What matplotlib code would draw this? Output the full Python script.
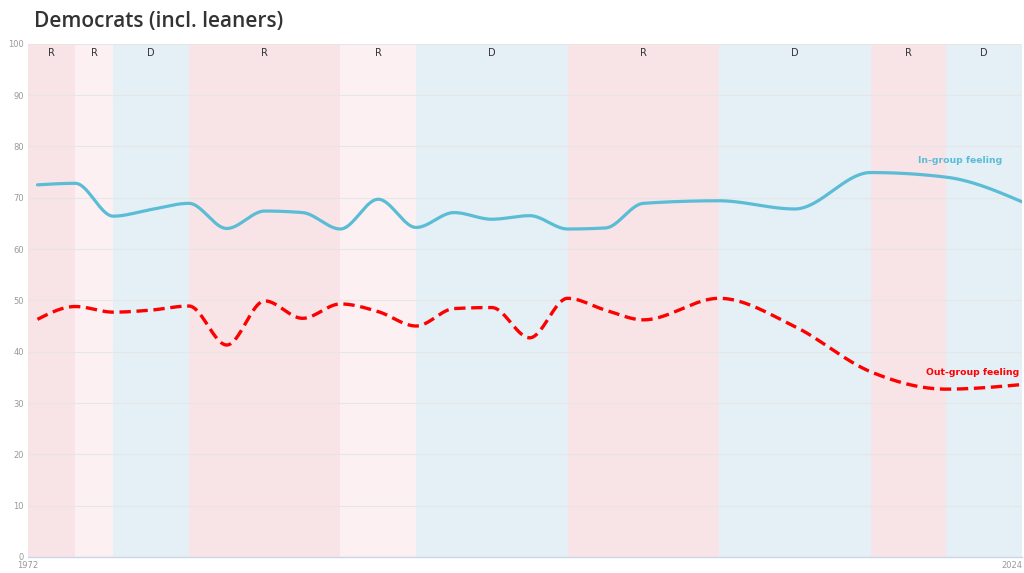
import numpy as np
import matplotlib.pyplot as plt

years = [1972, 1974, 1976, 1978, 1980, 1982, 1984, 1986, 1988, 1990, 1992,
         1994, 1996, 1998, 2000, 2002, 2004, 2008, 2012, 2016, 2020, 2024]
in_group = [72.5, 72.8, 66.4, 67.7, 68.9, 64.0, 67.4, 67.1, 63.9, 69.7, 64.2,
            67.1, 65.8, 66.5, 63.9, 64.1, 68.9, 69.4, 67.8, 74.9, 74.0, 69.2]
out_group = [46.3, 48.8, 47.7, 48.1, 48.9, 41.3, 49.9, 46.5, 49.3, 47.8, 45.0,
             48.4, 48.6, 42.7, 50.4, 48.1, 46.2, 50.4, 44.9, 36.1, 32.7, 33.6]

# presidencies: start, end, party
term_starts = [1971.5, 1974, 1976, 1980, 1988, 1992, 2000, 2008, 2016, 2020]
term_ends = [1974, 1976, 1980, 1988, 1992, 2000, 2008, 2016, 2020, 2024]
term_party = ["R", "R", "D", "R", "R", "D", "R", "D", "R", "D"]
term_shade = ["dark", "light", "dark", "dark", "light", "dark", "dark", "dark", "dark", "dark"]

band_colors = {("R", "dark"): "#f8e3e6", ("R", "light"): "#fcf0f2",
               ("D", "dark"): "#e4eff6", ("D", "light"): "#eef5fa"}


def monotone(x, y, n=40):
    # monotone cubic interpolation (d3 curveMonotoneX style)
    x = np.asarray(x, float)
    y = np.asarray(y, float)
    h = np.diff(x)
    s = np.diff(y) / h
    m = np.zeros_like(y)
    for i in range(1, len(y) - 1):
        p = (s[i - 1] * h[i] + s[i] * h[i - 1]) / (h[i - 1] + h[i])
        m[i] = (np.sign(s[i - 1]) + np.sign(s[i])) * min(abs(s[i - 1]), abs(s[i]), 0.5 * abs(p))
    m[0] = (3 * s[0] - m[1]) / 2
    m[-1] = (3 * s[-1] - m[-2]) / 2
    xs, ys = [], []
    for i in range(len(h)):
        t = np.linspace(0, 1, n, endpoint=(i == len(h) - 1))
        h00 = 2 * t**3 - 3 * t**2 + 1
        h10 = t**3 - 2 * t**2 + t
        h01 = -2 * t**3 + 3 * t**2
        h11 = t**3 - t**2
        xs.append(x[i] + t * h[i])
        ys.append(h00 * y[i] + h10 * h[i] * m[i] + h01 * y[i + 1] + h11 * h[i] * m[i + 1])
    return np.concatenate(xs), np.concatenate(ys)


fig = plt.figure(figsize=(10.24, 5.73), dpi=100)
ax = fig.add_axes([28 / 1024, 1 - 557 / 573, 994 / 1024, (557 - 43.7) / 573])

for x0, x1, p, sh in zip(term_starts, term_ends, term_party, term_shade):
    ax.axvspan(x0, x1, color=band_colors[(p, sh)], lw=0, zorder=0)
    ax.text((x0 + x1) / 2, 98.2, p, ha="center", va="center", fontsize=7,
            color="#333333", zorder=3)

xi, yi = monotone(years, in_group)
ax.plot(xi, yi, color="#5bbcd6", lw=2.3, solid_capstyle="round", zorder=4)
xo, yo = monotone(years, out_group)
ax.plot(xo, yo, color="#ff0000", lw=2.4, linestyle=(0, (3.4, 1.7)), zorder=4)

ax.text(2020.75, 77.2, "In-group feeling", color="#5bbcd6", fontsize=6.7,
        fontweight="bold", ha="center", va="center", zorder=5)
ax.text(2021.4, 35.9, "Out-group feeling", color="#ff0000", fontsize=6.7,
        fontweight="bold", ha="center", va="center", zorder=5)

ax.set_xlim(1971.5, 2024)
ax.set_ylim(0, 100)
ax.set_yticks(range(0, 101, 10))
ax.set_xticks([1971.5, 2024])
ax.set_xticklabels(["1972", "2024"])
ax.get_xticklabels()[1].set_ha("right")
ax.tick_params(axis="both", length=0, labelsize=6, colors="#999999")
ax.tick_params(axis="y", pad=3)
ax.tick_params(axis="x", pad=3)
ax.grid(True, axis="y", color="#e6e6e6", lw=0.8, zorder=1)
ax.set_axisbelow(False)
for side in ["top", "right", "left"]:
    ax.spines[side].set_visible(False)
ax.spines["bottom"].set_color("#ccd6eb")
ax.spines["bottom"].set_linewidth(1)

fig.text(34 / 1024, 1 - 22 / 573, "Democrats (incl. leaners)", fontsize=15,
         fontweight="semibold", color="#333333", ha="left", va="center",
         family="Open Sans")

plt.savefig("out.png", dpi=100)
